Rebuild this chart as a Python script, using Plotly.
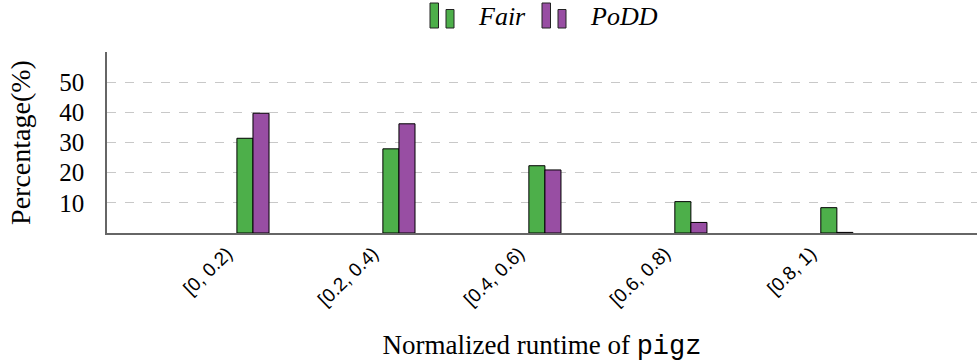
import plotly.graph_objects as go

categories = ["[0, 0.2)", "[0.2, 0.4)", "[0.4, 0.6)", "[0.6, 0.8)", "[0.8, 1)"]
fair = [31.4, 27.9, 22.3, 10.4, 8.4]
podd = [39.7, 36.2, 20.9, 3.5, 0.2]
yticks = [10, 20, 30, 40, 50]
series_names = ["Fair", "PoDD"]
series_colors = ["#4daf4a", "#984ea3"]

W, H = 979, 362
L, R, T, B = 107, 2, 52, 129
serif = "Liberation Serif"

fig = go.Figure()
for name, vals, col in zip(series_names, [fair, podd], series_colors):
    fig.add_trace(go.Bar(x=list(range(len(categories))), y=vals, name=name,
                         marker=dict(color=col, line=dict(color="black", width=1))))

# custom legend (two-bar icon like pgfplots ybar legend)
pw = W - L - R
ph = H - T - B
def px(x):
    return (x - L) / pw
def py(y):
    return (H - B - y) / ph

legend_x = [430, 542]   # left edge of each legend icon, pixels
text_gap = 46
shapes = []
annotations = []
for name, col, x0 in zip(series_names, series_colors, legend_x):
    shapes.append(dict(type="rect", xref="paper", yref="paper",
                       x0=px(x0), x1=px(x0 + 8.5), y0=py(28), y1=py(3),
                       fillcolor=col, line=dict(color="#222", width=1)))
    shapes.append(dict(type="rect", xref="paper", yref="paper",
                       x0=px(x0 + 16), x1=px(x0 + 24), y0=py(28), y1=py(9.5),
                       fillcolor=col, line=dict(color="#222", width=1)))
    annotations.append(dict(xref="paper", yref="paper", x=px(x0 + text_gap), y=py(17),
                            xanchor="left", yanchor="middle", showarrow=False,
                            text="<i>%s</i>" % name,
                            font=dict(family=serif, size=26, color="black")))

fig.update_layout(
    width=W, height=H,
    margin=dict(l=L, r=R, t=T, b=B),
    plot_bgcolor="white", paper_bgcolor="white",
    barmode="group", bargap=0.78, bargroupgap=0,
    showlegend=False,
    shapes=shapes, annotations=annotations,
    xaxis=dict(
        range=[-1, 4.96], tickmode="array", tickvals=list(range(len(categories))),
        ticktext=categories, tickangle=-44, ticklabelshift=-26, ticklabelstandoff=0,
        tickfont=dict(family="Liberation Sans", size=19, color="black"),
        showline=True, linecolor="#666", linewidth=2, showgrid=False, ticks="",
        zeroline=False,
        title=dict(text='Normalized runtime of <span style="font-family:Liberation Mono">pigz</span>',
                   font=dict(family=serif, size=27, color="black"), standoff=30),
    ),
    yaxis=dict(
        range=[0, 60], tickmode="array", tickvals=yticks,
        tickfont=dict(family=serif, size=25, color="black"),
        ticklabelstandoff=16,
        showline=True, linecolor="#666", linewidth=1.5,
        showgrid=True, gridcolor="#c8c8c8", griddash="dash", gridwidth=1,
        zeroline=False, ticks="",
        title=dict(text="Percentage(%)", font=dict(family=serif, size=28, color="black"), standoff=20),
    ),
)
fig.write_html("out.html")
